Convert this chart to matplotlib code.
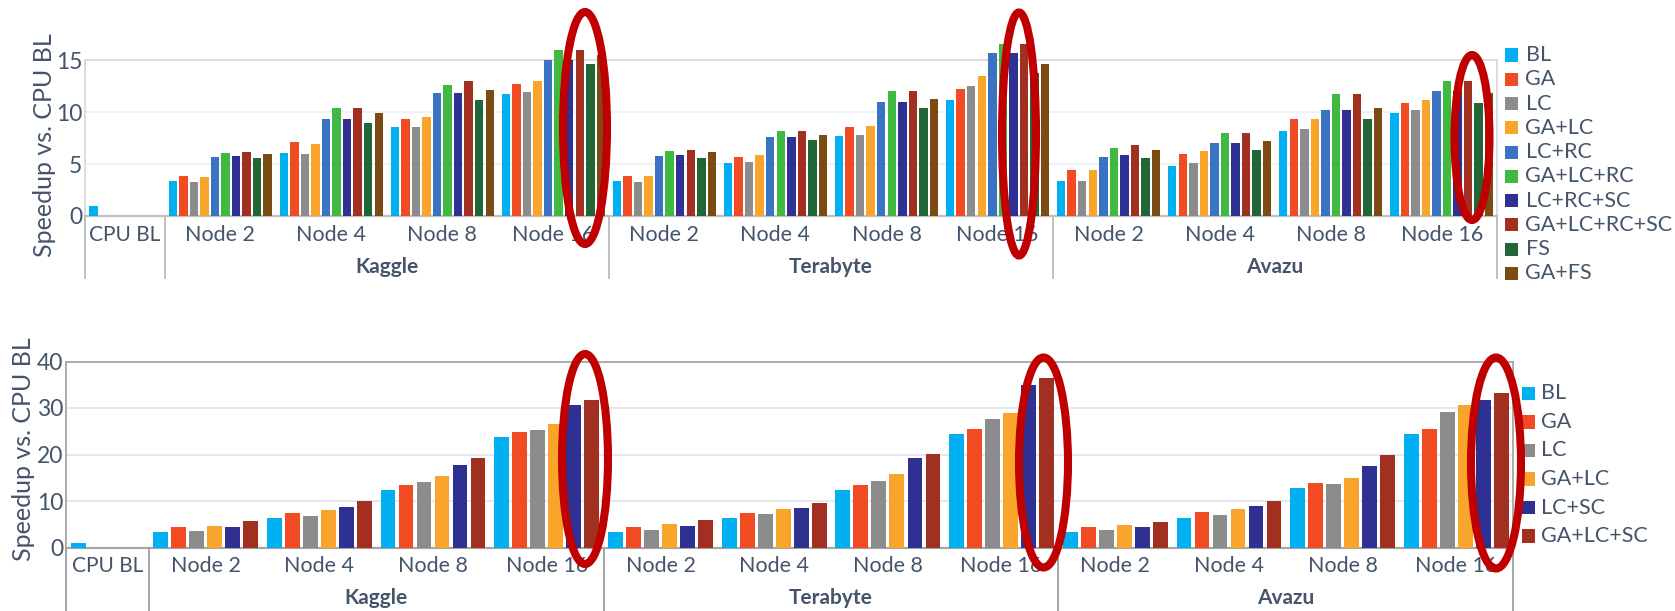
import matplotlib
matplotlib.use("Agg")
import matplotlib.pyplot as plt
from matplotlib.patches import Ellipse, Rectangle
from matplotlib.lines import Line2D
from matplotlib.transforms import blended_transform_factory

# ---------------- data ----------------
datasets = ["Kaggle", "Terabyte", "Avazu"]
nodes = ["Node 2", "Node 4", "Node 8", "Node 16"]
cpu_label = "CPU BL"

# Top chart: series values ordered Kaggle N2,N4,N8,N16, Terabyte N2..N16, Avazu N2..N16
top_series = ["BL", "GA", "LC", "GA+LC", "LC+RC", "GA+LC+RC", "LC+RC+SC",
              "GA+LC+RC+SC", "FS", "GA+FS"]
top_cpu_bl = 1.0
top_BL = [3.34, 6.04, 8.54, 11.76, 3.34, 5.11, 7.68, 11.18, 3.34, 4.85, 8.22, 9.89]
top_GA = [3.82, 7.13, 9.38, 12.72, 3.82, 5.65, 8.54, 12.24, 4.43, 6.01, 9.32, 10.89]
top_LC = [3.28, 5.97, 8.61, 11.95, 3.28, 5.17, 7.81, 12.53, 3.37, 5.08, 8.42, 10.25]
top_GA_LC = [3.76, 6.94, 9.51, 12.98, 3.89, 5.85, 8.64, 13.49, 4.43, 6.26, 9.32, 11.21]
top_LC_RC = [5.72, 9.38, 11.89, 15.03, 5.78, 7.61, 11.02, 15.68, 5.65, 7.00, 10.18, 12.08]
top_GA_LC_RC = [6.04, 10.41, 12.66, 15.97, 6.26, 8.16, 12.01, 16.58, 6.59, 7.97, 11.76, 12.98]
top_LC_RC_SC = [5.78, 9.38, 11.89, 15.03, 5.85, 7.61, 11.02, 15.68, 5.85, 7.00, 10.18, 12.08]
top_GA_LC_RC_SC = [6.20, 10.41, 12.98, 15.97, 6.39, 8.16, 12.01, 16.58, 6.81, 7.97, 11.76, 12.98]
top_FS = [5.59, 8.93, 11.18, 14.62, 5.62, 7.29, 10.41, 13.81, 5.56, 6.39, 9.32, 10.86]
top_GA_FS = [5.97, 9.96, 12.14, 15.50, 6.20, 7.84, 11.28, 14.68, 6.39, 7.23, 10.38, 11.85]
top_values = [top_BL, top_GA, top_LC, top_GA_LC, top_LC_RC, top_GA_LC_RC,
              top_LC_RC_SC, top_GA_LC_RC_SC, top_FS, top_GA_FS]
top_colors = ["#00B0F0", "#F04B23", "#8C8C8C", "#F9A52B", "#3A73C2", "#3FB93F",
              "#2E3192", "#A23021", "#206636", "#7A4C14"]
top_yticks = [0, 5, 10, 15]

# Bottom chart
bot_series = ["BL", "GA", "LC", "GA+LC", "LC+SC", "GA+LC+SC"]
bot_cpu_bl = 1.0
bot_BL = [3.36, 6.43, 12.43, 23.86, 3.29, 6.43, 12.43, 24.50, 3.29, 6.43, 12.86, 24.50]
bot_GA = [4.43, 7.43, 13.43, 24.86, 4.43, 7.43, 13.43, 25.57, 4.43, 7.57, 13.86, 25.57]
bot_LC = [3.57, 6.86, 14.00, 25.36, 3.71, 7.14, 14.29, 27.57, 3.71, 7.00, 13.71, 29.14]
bot_GA_LC = [4.71, 8.07, 15.29, 26.57, 5.00, 8.29, 15.71, 29.00, 4.86, 8.21, 15.00, 30.71]
bot_LC_SC = [4.43, 8.71, 17.71, 30.64, 4.57, 8.43, 19.14, 35.00, 4.43, 8.86, 17.43, 31.79]
bot_GA_LC_SC = [5.64, 9.93, 19.21, 31.64, 5.86, 9.57, 20.14, 36.43, 5.57, 10.00, 19.86, 33.29]
bot_values = [bot_BL, bot_GA, bot_LC, bot_GA_LC, bot_LC_SC, bot_GA_LC_SC]
bot_colors = ["#00B0F0", "#F04B23", "#8C8C8C", "#F9A52B", "#2E3192", "#A23021"]
bot_yticks = [0, 10, 20, 30, 40]

# ---------------- style ----------------
W, H = 1675, 611
TXT = "#44546A"
FONT = ["Lato", "DejaVu Sans"]
plt.rcParams["font.family"] = FONT

fig = plt.figure(figsize=(W / 100, H / 100), dpi=100)


def fx(px):
    return px / W


def fy(py):
    return 1 - py / H


def make_axes(l, r, t, b):
    return fig.add_axes([fx(l), fy(b), (r - l) / W, (b - t) / H])


def draw_chart(ax, series_vals, colors, cpu_val, cpu_w, ymax, yticks,
               frame_col, grid_col, axis_col, sep_col, axis_px, sep_end_px,
               label_px, group_px, bar_fill):
    n = len(series_vals)
    pitch = 0.95 / n
    bar_w = pitch * bar_fill
    cluster = (n - 1) * pitch + bar_w
    pad = (1 - cluster) / 2
    cats = [cpu_w + i for i in range(12)]
    ax.set_xlim(0, cpu_w + 12)
    ax.set_ylim(0, ymax)
    ax.set_axisbelow(True)
    # CPU BL bar (first series slot)
    ax.bar(pad, cpu_val, width=bar_w, align="edge", color=colors[0],
           clip_on=False, zorder=3)
    for j, vals in enumerate(series_vals):
        xs = [c + pad + j * pitch for c in cats]
        ax.bar(xs, vals, width=bar_w, align="edge", color=colors[j],
               clip_on=False, zorder=3)
    ax.set_yticks(yticks)
    ax.set_yticklabels([str(v) for v in yticks], fontsize=16.5, color=TXT)
    ax.tick_params(axis="y", length=0, pad=2.0)
    ax.set_xticks([])
    ax.grid(axis="y", color=grid_col, lw=1.3)
    for s in ["left", "top", "right"]:
        ax.spines[s].set_color(frame_col)
        ax.spines[s].set_linewidth(1.3)
    ax.spines["bottom"].set_color(axis_col)
    ax.spines["bottom"].set_linewidth(1.6)
    tr = blended_transform_factory(ax.transData, fig.transFigure)
    bounds = [0, cpu_w, cpu_w + 4, cpu_w + 8, cpu_w + 12]
    for bx in bounds:
        ax.add_line(Line2D([bx, bx], [fy(axis_px), fy(sep_end_px)],
                           transform=tr, color=sep_col, lw=1.4, clip_on=False))
    ax.text(cpu_w / 2, fy(label_px), cpu_label, transform=tr, ha="center",
            va="center", fontsize=15, color=TXT)
    for d, name in enumerate(datasets):
        for k, nd in enumerate(nodes):
            ax.text(cats[d * 4 + k] + 0.5, fy(label_px), nd, transform=tr,
                    ha="center", va="center", fontsize=15.5, color=TXT)
        ax.text(cpu_w + d * 4 + 2, fy(group_px), name, transform=tr,
                ha="center", va="center", fontsize=15, fontweight="bold",
                color=TXT)


# top chart
ax1 = make_axes(85.3, 1497.3, 60.3, 216.0)
draw_chart(ax1, top_values, top_colors, top_cpu_bl, 0.715, 15, top_yticks,
           "#d9d9d9", "#edf0f5", "#bfbfbf", "#bfbfbf", 216.0, 278.0,
           235.0, 267.0, 0.80)
# bottom chart
ax2 = make_axes(66.3, 1513.3, 361.5, 547.5)
draw_chart(ax2, bot_values, bot_colors, bot_cpu_bl, 0.725, 40, bot_yticks,
           "#a6a6a6", "#e3e7ed", "#a6a6a6", "#a6a6a6", 547.5, 611.0,
           566.5, 598.0, 0.82)

# y labels
fig.text(fx(45), fy(145.5), "Speedup vs. CPU BL", rotation=90, ha="center",
         va="center", fontsize=18, color=TXT)
fig.text(fx(24), fy(449.5), "Speedup vs. CPU BL", rotation=90, ha="center",
         va="center", fontsize=18, color=TXT)

# legends
def legend(names, colors, sq_x, txt_x, y0, dy, size):
    for k, (nm, c) in enumerate(zip(names, colors)):
        yc = y0 + k * dy
        fig.add_artist(Rectangle((fx(sq_x), fy(yc + size / 2)), size / W,
                                 size / H, transform=fig.transFigure,
                                 facecolor=c, edgecolor="none"))
        fig.text(fx(txt_x), fy(yc), nm, ha="left", va="center", fontsize=15.5,
                 color=TXT)


legend(top_series, top_colors, 1505, 1525.5, 55.0, 24.26, 13)
legend(bot_series, bot_colors, 1521.7, 1541, 393.3, 28.55, 13.3)

# red highlight ellipses (figure pixel coordinates: cx, cy, w, h)
ellipses = [(585, 128, 44, 232), (1019, 134, 34, 243), (1472, 137.5, 35, 165),
            (585, 459, 46, 210), (1043.5, 462.5, 49, 210), (1496, 463, 50, 211)]
for cx, cy, w, h in ellipses:
    fig.add_artist(Ellipse((fx(cx), fy(cy)), w / W, h / H,
                           transform=fig.transFigure, fill=False,
                           edgecolor="#C00000", lw=5.8, zorder=10))

fig.savefig("out.png", dpi=100)
